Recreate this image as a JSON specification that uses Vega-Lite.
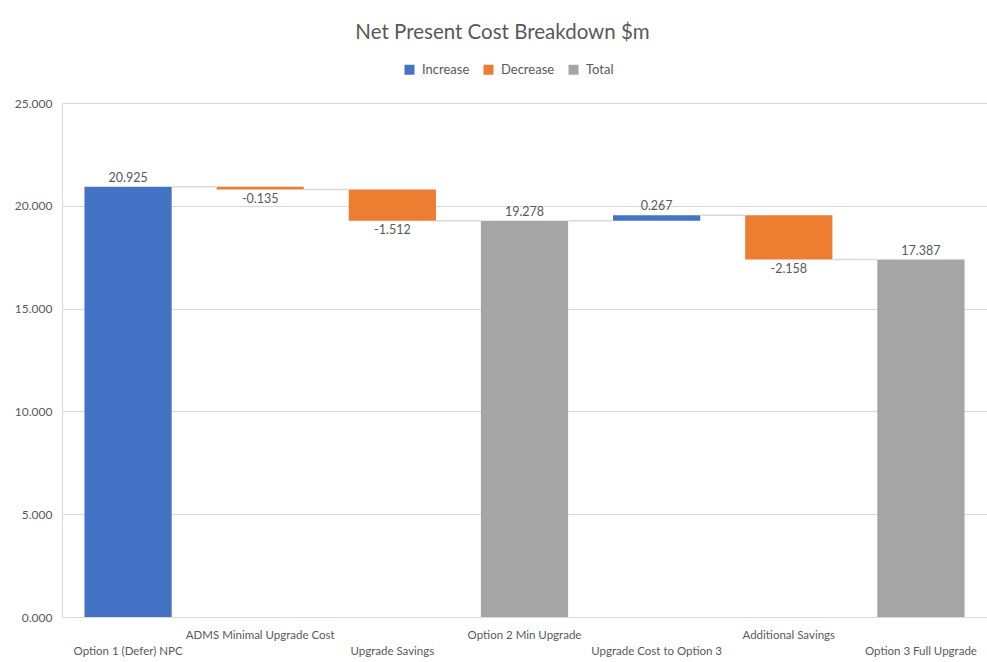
{
  "$schema": "https://vega.github.io/schema/vega-lite/v6.json",
  "width": 925,
  "height": 514,
  "autosize": {"type": "none"},
  "padding": {"left": 62, "top": 103, "right": 0, "bottom": 45},
  "background": "white",
  "config": {
    "view": {"stroke": null},
    "locale": {"number": {"decimal": ".", "thousands": ",", "grouping": [3], "currency": ["$", ""], "minus": "-"}},
    "font": "Lato"
  },
  "title": {
    "text": "Net Present Cost Breakdown $m",
    "font": "Lato",
    "fontSize": 20.5,
    "fontWeight": "normal",
    "color": "#595959",
    "anchor": "middle",
    "offset": 20,
    "dx": -22
  },
  "data": {
    "values": [
      {"category": "Option 1 (Defer) NPC", "kind": "Increase", "y0": 0, "y1": 20.925, "amount": 20.925, "next": "ADMS Minimal Upgrade Cost"},
      {"category": "ADMS Minimal Upgrade Cost", "kind": "Decrease", "y0": 20.925, "y1": 20.79, "amount": -0.135, "next": "Upgrade Savings"},
      {"category": "Upgrade Savings", "kind": "Decrease", "y0": 20.79, "y1": 19.278, "amount": -1.512, "next": "Option 2 Min Upgrade"},
      {"category": "Option 2 Min Upgrade", "kind": "Total", "y0": 0, "y1": 19.278, "amount": 19.278, "next": "Upgrade Cost to Option 3"},
      {"category": "Upgrade Cost to Option 3", "kind": "Increase", "y0": 19.278, "y1": 19.545, "amount": 0.267, "next": "Additional Savings"},
      {"category": "Additional Savings", "kind": "Decrease", "y0": 19.545, "y1": 17.387, "amount": -2.158, "next": "Option 3 Full Upgrade"},
      {"category": "Option 3 Full Upgrade", "kind": "Total", "y0": 0, "y1": 17.387, "amount": 17.387, "next": null}
    ]
  },
  "encoding": {
    "x": {
      "field": "category",
      "type": "nominal",
      "scale": {
        "domain": ["Option 1 (Defer) NPC", "ADMS Minimal Upgrade Cost", "Upgrade Savings", "Option 2 Min Upgrade", "Upgrade Cost to Option 3", "Additional Savings", "Option 3 Full Upgrade"],
        "paddingInner": 0.34,
        "paddingOuter": 0.17
      },
      "axis": {
        "title": null,
        "labelAngle": 0,
        "labelFont": "Lato",
        "labelFontSize": 11.5,
        "labelColor": "#595959",
        "labelOverlap": false,
        "labelLimit": 300,
        "ticks": false,
        "domainColor": "#d9d9d9",
        "labelPadding": {
          "condition": {"test": "indexof(['ADMS Minimal Upgrade Cost','Option 2 Min Upgrade','Additional Savings'], datum.value) >= 0", "value": 12},
          "value": 28
        }
      }
    }
  },
  "layer": [
    {
      "mark": {"type": "bar"},
      "encoding": {
        "y": {
          "field": "y0",
          "type": "quantitative",
          "scale": {"domain": [0, 25], "nice": false},
          "axis": {
            "title": null,
            "values": [0, 5, 10, 15, 20, 25],
            "format": ".3f",
            "labelFont": "Lato",
            "labelFontSize": 12,
            "labelColor": "#595959",
            "labelPadding": 10,
            "ticks": false,
            "gridColor": "#d9d9d9",
            "domainColor": "#d9d9d9"
          }
        },
        "y2": {"field": "y1"},
        "color": {
          "field": "kind",
          "type": "nominal",
          "scale": {"domain": ["Increase", "Decrease", "Total"], "range": ["#4472C4", "#ED7D31", "#A5A5A5"]},
          "legend": {
            "title": null,
            "orient": "none",
            "direction": "horizontal",
            "legendX": 341,
            "legendY": -40,
            "symbolType": "square",
            "symbolSize": 100,
            "symbolStrokeWidth": 0,
            "labelFont": "Lato",
            "labelFontSize": 13,
            "labelColor": "#595959",
            "labelOffset": 6,
            "columnPadding": 12
          }
        }
      }
    },
    {
      "transform": [{"filter": "datum.next != null"}],
      "mark": {"type": "rule", "color": "#d9d9d9", "strokeWidth": 1.5, "xOffset": 44, "x2Offset": -44},
      "encoding": {
        "x2": {"field": "next"},
        "y": {"field": "y1", "type": "quantitative"}
      }
    },
    {
      "transform": [{"filter": "datum.kind != 'Decrease'"}],
      "mark": {"type": "text", "baseline": "bottom", "dy": -2, "font": "Lato", "fontSize": 12.5, "color": "#595959"},
      "encoding": {
        "y": {"field": "y1", "type": "quantitative"},
        "text": {"field": "amount", "type": "quantitative", "format": ".3f"}
      }
    },
    {
      "transform": [{"filter": "datum.kind == 'Decrease'"}],
      "mark": {"type": "text", "baseline": "top", "dy": 3, "font": "Lato", "fontSize": 12.5, "color": "#595959"},
      "encoding": {
        "y": {"field": "y1", "type": "quantitative"},
        "text": {"field": "amount", "type": "quantitative", "format": ".3f"}
      }
    }
  ]
}
